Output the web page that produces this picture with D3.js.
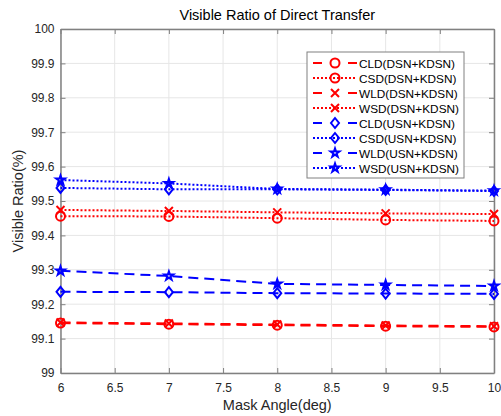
<!DOCTYPE html>
<html>
<head>
<meta charset="utf-8">
<script src="https://cdn.jsdelivr.net/npm/d3@7"></script>
<style>
  body { margin: 0; background: #fff; }
  text { font-family: "Liberation Sans", Arial, sans-serif; }
</style>
</head>
<body>
<svg id="chart" width="501" height="416"></svg>
<script>
// Data
var maskAngles = [6, 7, 8, 9, 10];
var seriesNames = ["CLD(DSN+KDSN)", "CSD(DSN+KDSN)", "WLD(DSN+KDSN)", "WSD(DSN+KDSN)",
                   "CLD(USN+KDSN)", "CSD(USN+KDSN)", "WLD(USN+KDSN)", "WSD(USN+KDSN)"];
var cldDsn = [99.145, 99.142, 99.139, 99.136, 99.134];
var csdDsn = [99.456, 99.455, 99.450, 99.445, 99.442];
var wldDsn = [99.147, 99.144, 99.141, 99.138, 99.136];
var wsdDsn = [99.474, 99.471, 99.467, 99.464, 99.462];
var cldUsn = [99.236, 99.235, 99.232, 99.231, 99.230];
var csdUsn = [99.538, 99.534, 99.534, 99.532, 99.529];
var wldUsn = [99.297, 99.282, 99.259, 99.256, 99.253];
var wsdUsn = [99.561, 99.551, 99.535, 99.533, 99.530];
var xTicks = [6, 6.5, 7, 7.5, 8, 8.5, 9, 9.5, 10];
var yTicks = [99, 99.1, 99.2, 99.3, 99.4, 99.5, 99.6, 99.7, 99.8, 99.9, 100];

var allValues = [cldDsn, csdDsn, wldDsn, wsdDsn, cldUsn, csdUsn, wldUsn, wsdUsn];
// style per series: colour, dash, marker
var styles = [
  {color: "#ff0000", dash: "10,6", marker: "circle"},
  {color: "#ff0000", dash: "2,2", marker: "circle"},
  {color: "#ff0000", dash: "10,6", marker: "x"},
  {color: "#ff0000", dash: "2,2", marker: "x"},
  {color: "#0000ff", dash: "10,6", marker: "diamond"},
  {color: "#0000ff", dash: "2,2", marker: "diamond"},
  {color: "#0000ff", dash: "10,6", marker: "star"},
  {color: "#0000ff", dash: "2,2", marker: "star"}
];

var margin = {left: 60.5, right: 7, top: 29, bottom: 43};
var width = 501, height = 416;

var x = d3.scaleLinear().domain([6, 10]).range([margin.left, width - margin.right]);
var y = d3.scaleLinear().domain([99, 100]).range([height - margin.bottom, margin.top]);

var svg = d3.select("#chart");
var axisColor = "#808080", textColor = "#262626";

// grid
svg.append("g").selectAll("line").data(xTicks).enter().append("line")
  .attr("x1", function(d) { return x(d); }).attr("x2", function(d) { return x(d); })
  .attr("y1", y(99)).attr("y2", y(100))
  .attr("stroke", "#e6e6e6").attr("stroke-width", 1);
svg.append("g").selectAll("line").data(yTicks).enter().append("line")
  .attr("y1", function(d) { return y(d); }).attr("y2", function(d) { return y(d); })
  .attr("x1", x(6)).attr("x2", x(10))
  .attr("stroke", "#e6e6e6").attr("stroke-width", 1);

// axes (MATLAB box style, inward ticks)
var xAxis = d3.axisBottom(x).tickValues(xTicks).tickSizeInner(-5).tickSizeOuter(0)
  .tickFormat(d3.format("~g")).tickPadding(10);
var yAxis = d3.axisLeft(y).tickValues(yTicks).tickSizeInner(-5).tickSizeOuter(0)
  .tickFormat(d3.format("~g")).tickPadding(6);
var xTop = d3.axisTop(x).tickValues(xTicks).tickSizeInner(-5).tickSizeOuter(0).tickFormat("");
var yRight = d3.axisRight(y).tickValues(yTicks).tickSizeInner(-5).tickSizeOuter(0).tickFormat("");

function styleAxis(g) {
  g.select(".domain").attr("stroke", axisColor).attr("stroke-width", 1.5);
  g.selectAll(".tick line").attr("stroke", axisColor);
  g.selectAll(".tick text").attr("fill", textColor).style("font-size", "12px")
    .style("font-family", "'Liberation Sans', Arial, sans-serif");
}
svg.append("g").attr("transform", "translate(0," + y(99) + ")").call(xAxis).call(styleAxis);
svg.append("g").attr("transform", "translate(" + x(6) + ",0)").call(yAxis).call(styleAxis);
svg.append("g").attr("transform", "translate(0," + y(100) + ")").call(xTop).call(styleAxis);
svg.append("g").attr("transform", "translate(" + x(10) + ",0)").call(yRight).call(styleAxis);

// markers
function drawMarker(g, type, cx, cy, color) {
  if (type === "circle") {
    g.append("circle").attr("cx", cx).attr("cy", cy).attr("r", 4.5)
      .attr("fill", "none").attr("stroke", color).attr("stroke-width", 2);
  } else if (type === "x") {
    var s = 4;
    g.append("path")
      .attr("d", "M" + (cx - s) + "," + (cy - s) + "L" + (cx + s) + "," + (cy + s) +
                 "M" + (cx - s) + "," + (cy + s) + "L" + (cx + s) + "," + (cy - s))
      .attr("stroke", color).attr("stroke-width", 2).attr("fill", "none");
  } else if (type === "diamond") {
    var s2 = 5;
    g.append("path")
      .attr("d", "M" + cx + "," + (cy - s2) + "L" + (cx + s2 * 0.8) + "," + cy +
                 "L" + cx + "," + (cy + s2) + "L" + (cx - s2 * 0.8) + "," + cy + "Z")
      .attr("stroke", color).attr("stroke-width", 2).attr("fill", "none");
  } else if (type === "star") {
    g.append("path")
      .attr("d", d3.symbol().type(d3.symbolStar).size(24)())
      .attr("transform", "translate(" + cx + "," + cy + ")")
      .attr("stroke", color).attr("stroke-width", 2).attr("fill", "none");
  }
}

var line = d3.line()
  .x(function(d, i) { return x(maskAngles[i]); })
  .y(function(d) { return y(d); });

var plot = svg.append("g");
allValues.forEach(function(vals, k) {
  var st = styles[k];
  plot.append("path").datum(vals)
    .attr("d", line)
    .attr("fill", "none").attr("stroke", st.color)
    .attr("stroke-width", 2).attr("stroke-dasharray", st.dash);
  vals.forEach(function(v, i) {
    drawMarker(plot, st.marker, x(maskAngles[i]), y(v), st.color);
  });
});

// legend
var lg = svg.append("g");
var lgLeft = 307, lgTop = 52, lgW = 157, rowH = 15;
lg.append("rect").attr("x", lgLeft).attr("y", lgTop).attr("width", lgW)
  .attr("height", rowH * seriesNames.length + 6)
  .attr("fill", "#fff").attr("stroke", "#808080").attr("stroke-width", 1);
seriesNames.forEach(function(name, k) {
  var st = styles[k];
  var ry = lgTop + 11 + k * rowH;
  lg.append("line").attr("x1", lgLeft + 6).attr("x2", lgLeft + 50)
    .attr("y1", ry).attr("y2", ry)
    .attr("stroke", st.color).attr("stroke-width", 2)
    .attr("stroke-dasharray", st.dash === "2,2" ? "2,2" : "9,26");
  drawMarker(lg, st.marker, lgLeft + 28, ry, st.color);
  lg.append("text").attr("x", lgLeft + 52).attr("y", ry + 4.5)
    .attr("fill", "#000").style("font-size", "11.8px").text(name);
});

// title & labels
svg.append("text").attr("x", (x(6) + x(10)) / 2).attr("y", 20)
  .attr("text-anchor", "middle").attr("fill", "#000").style("font-size", "14.5px")
  .text("Visible Ratio of Direct Transfer");
svg.append("text").attr("x", (x(6) + x(10)) / 2).attr("y", 410)
  .attr("text-anchor", "middle").attr("fill", textColor).style("font-size", "14.5px")
  .text("Mask Angle(deg)");
svg.append("text")
  .attr("transform", "translate(23," + ((y(99) + y(100)) / 2) + ")rotate(-90)")
  .attr("text-anchor", "middle").attr("fill", textColor).style("font-size", "14.5px")
  .text("Visible Ratio(%)");
</script>
</body>
</html>
